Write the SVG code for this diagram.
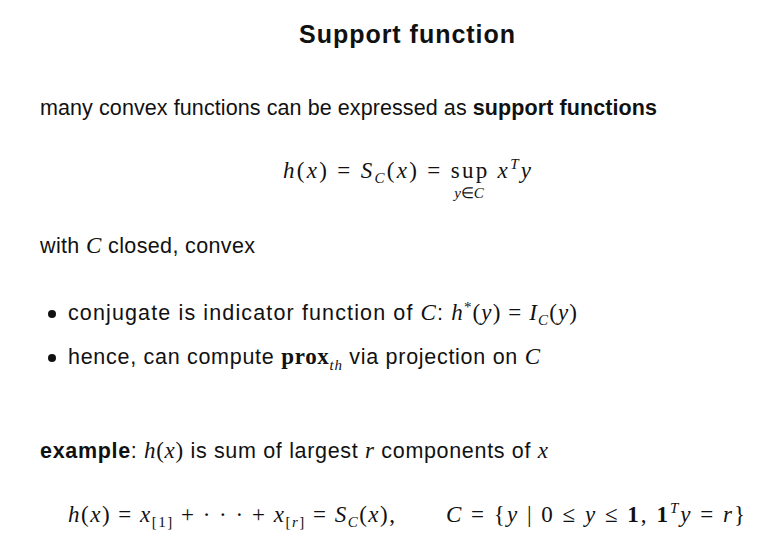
<svg xmlns="http://www.w3.org/2000/svg" width="774" height="547" viewBox="0 0 774 547">
<style>
.t{font-family:"Liberation Sans",Arial,sans-serif;font-size:21.5px;fill:#111}
.m{font-family:"Liberation Serif","Times New Roman",serif;font-size:23px;fill:#111}
.i{font-style:italic}
.b{font-weight:bold}
.s{font-size:15px}
</style>
<rect width="774" height="547" fill="#fff"/>
<text x="407" y="43" text-anchor="middle" class="t b" style="font-size:25px" textLength="216">Support function</text>
<text x="40" y="115" class="t" textLength="617">many convex functions can be expressed as <tspan class="b">support functions</tspan></text>
<text x="283" y="178" class="m" textLength="248"><tspan class="i">h</tspan>(<tspan class="i">x</tspan>) = <tspan class="i">S</tspan><tspan class="i s" dy="5">C</tspan><tspan dy="-5">(</tspan><tspan class="i">x</tspan>) = sup <tspan class="i">x</tspan><tspan class="i s" dy="-9">T</tspan><tspan class="i" dy="9">y</tspan></text>
<text x="469" y="198" text-anchor="middle" class="m i s">y<tspan style="font-style:normal">∈</tspan>C</text>
<text x="40" y="253" class="t" textLength="215">with <tspan class="m i">C</tspan> closed, convex</text>
<circle cx="52" cy="314" r="4" fill="#111"/>
<text x="68" y="320" class="t" textLength="509">conjugate is indicator function of <tspan class="m i">C</tspan>:  <tspan class="m"><tspan class="i">h</tspan><tspan class="s" dy="-8">*</tspan><tspan dy="8">(</tspan><tspan class="i">y</tspan>) = <tspan class="i">I</tspan><tspan class="i s" dy="5">C</tspan><tspan dy="-5">(</tspan><tspan class="i">y</tspan>)</tspan></text>
<circle cx="52" cy="358" r="4" fill="#111"/>
<text x="68" y="364" class="t" textLength="472">hence, can compute <tspan class="m b">prox</tspan><tspan class="m i s" dy="6">th</tspan><tspan dy="-6"> via projection on </tspan><tspan class="m i">C</tspan></text>
<text x="40" y="458" class="t" textLength="508"><tspan class="b">example</tspan>: <tspan class="m"><tspan class="i">h</tspan>(<tspan class="i">x</tspan>)</tspan> is sum of largest <tspan class="m i">r</tspan> components of <tspan class="m i">x</tspan></text>
<text x="68" y="522" class="m" textLength="327"><tspan class="i">h</tspan>(<tspan class="i">x</tspan>) = <tspan class="i">x</tspan><tspan class="s" dy="5">[1]</tspan><tspan dy="-5"> + · · · + </tspan><tspan class="i">x</tspan><tspan class="s" dy="5">[<tspan class="i">r</tspan>]</tspan><tspan dy="-5"> = </tspan><tspan class="i">S</tspan><tspan class="i s" dy="5">C</tspan><tspan dy="-5">(</tspan><tspan class="i">x</tspan>),</text>
<text x="446" y="522" class="m" textLength="299"><tspan class="i">C</tspan> = {<tspan class="i">y</tspan> | 0 ≤ <tspan class="i">y</tspan> ≤ <tspan class="b">1</tspan>, <tspan class="b">1</tspan><tspan class="i s" dy="-9">T</tspan><tspan class="i" dy="9">y</tspan> = <tspan class="i">r</tspan>}</text>
</svg>
